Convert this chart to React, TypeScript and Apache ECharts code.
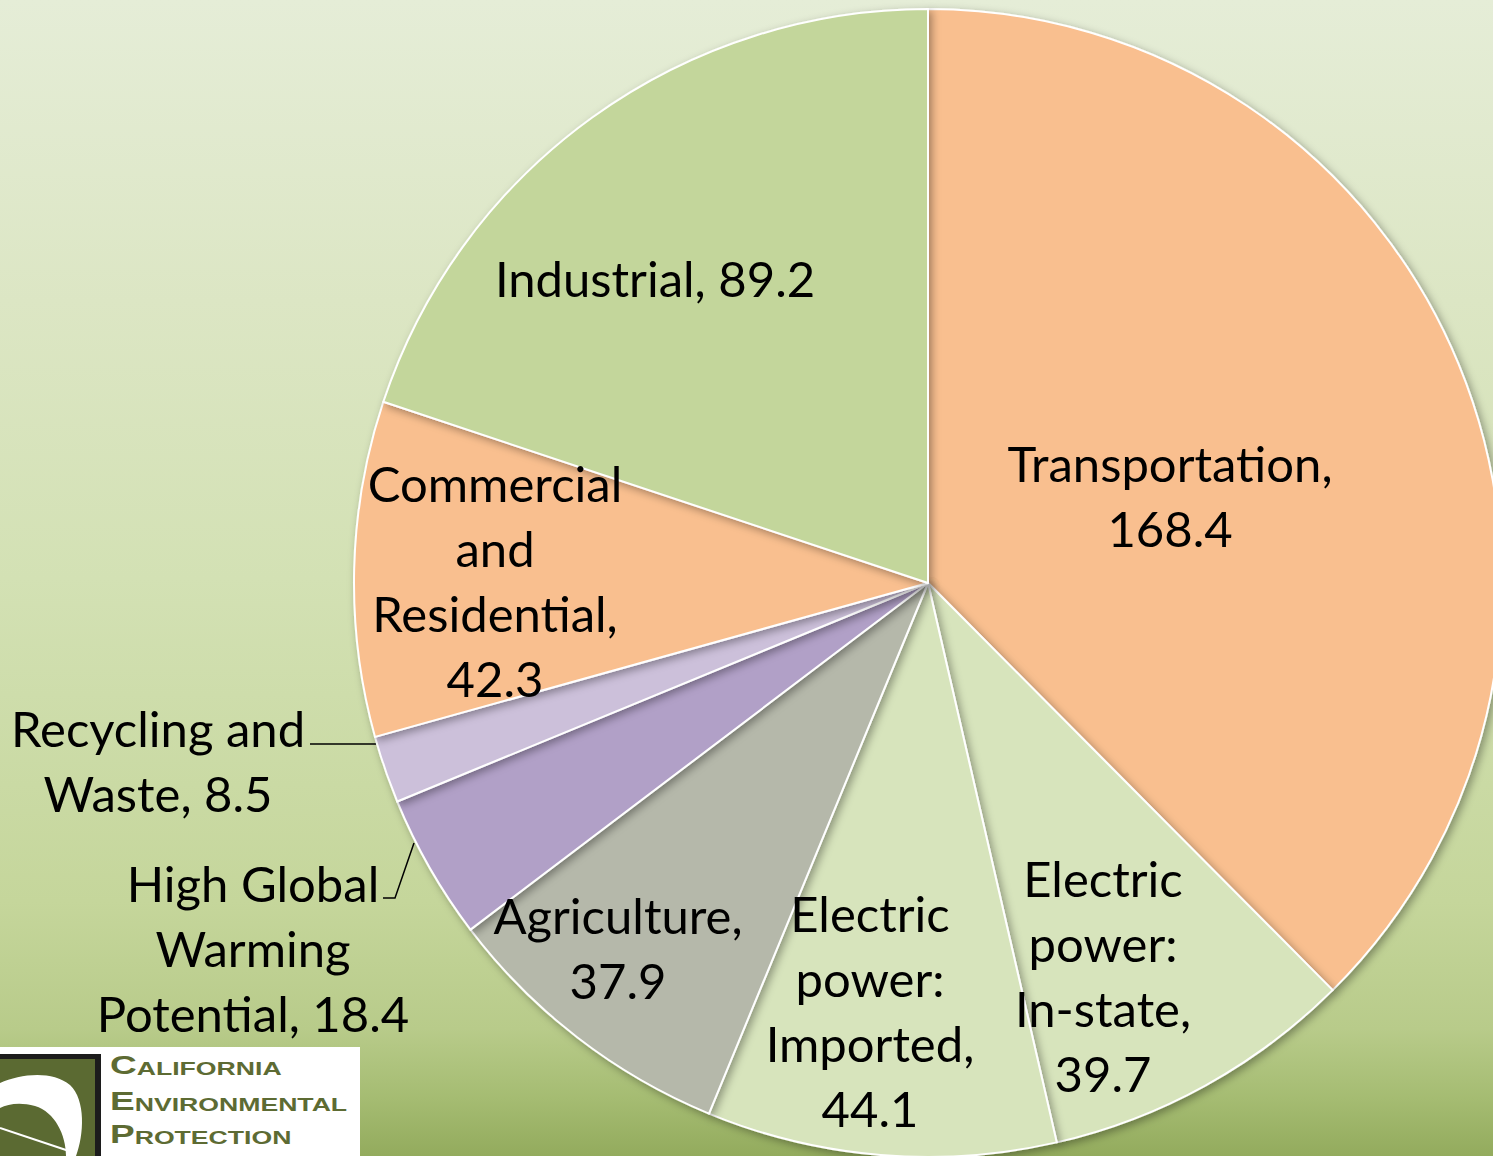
import React, { useEffect, useRef } from "react";
import * as echarts from "echarts";

const categories = [
  "Transportation",
  "Electric power: In-state",
  "Electric power: Imported",
  "Agriculture",
  "High Global Warming Potential",
  "Recycling and Waste",
  "Commercial and Residential",
  "Industrial",
];
const values = [168.4, 39.7, 44.1, 37.9, 18.4, 8.5, 42.3, 89.2];
const labelTexts = [
  "Transportation,\n168.4",
  "Electric\npower:\nIn-state,\n39.7",
  "Electric\npower:\nImported,\n44.1",
  "Agriculture,\n37.9",
  "High Global\nWarming\nPotential, 18.4",
  "Recycling and\nWaste, 8.5",
  "Commercial\nand\nResidential,\n42.3",
  "Industrial, 89.2",
];

// styling / layout (not data)
const sliceColors = ["#F9BF8F", "#D7E4BC", "#D7E4BC", "#B5B8AA", "#B1A0C7", "#CCC0DA", "#F9BF8F", "#C3D69B"];
const labelPos: [number, number][] = [
  [1170, 495],
  [1103, 975],
  [870, 1010],
  [618, 947],
  [253, 948],
  [158, 760],
  [495, 580],
  [655, 278],
];
const labelLinePts: Record<number, [number, number][]> = {
  4: [[414, 843], [395, 898], [383, 898]],
  5: [[376, 744], [343, 744], [310, 744]],
};

const LEAF =
  "M0,27 C20,18 52,14 70,29 C86,44 84,79 76,100 L66,100 C66,79 55,56 35,50 C20,46 8,48 0,52 Z";

export default function App() {
  const ref = useRef<HTMLDivElement>(null);
  useEffect(() => {
    if (!ref.current) return;
    try {
      echarts.graphic.registerShape("leaf", echarts.graphic.extendPath(LEAF, {}) as any);
    } catch (e) {}
    const chart = echarts.init(ref.current, null, { renderer: "svg" });
    const logoFont = "Liberation Sans";
    const mkLogoLine = (big: string, small: string, y: number) => ({
      type: "text",
      x: 110,
      y,
      scaleX: 1.48,
      style: {
        text: `{b|${big}}{s|${small}}`,
        fill: "#5D6B33",
        verticalAlign: "bottom",
        rich: {
          b: { fontSize: 25, fontWeight: "bold", fontFamily: logoFont, fill: "#5D6B33", verticalAlign: "bottom", lineHeight: 25 },
          s: { fontSize: 18, fontWeight: "bold", fontFamily: logoFont, fill: "#5D6B33", verticalAlign: "bottom", lineHeight: 18 },
        },
      },
      z: 100,
    });
    chart.setOption({
      animation: false,
      backgroundColor: {
        type: "linear",
        x: 0,
        y: 0,
        x2: 0,
        y2: 1,
        colorStops: [
          { offset: 0, color: "#E5EDD7" },
          { offset: 0.26, color: "#DCE6C4" },
          { offset: 0.5, color: "#D3E1B4" },
          { offset: 0.78, color: "#C5D69B" },
          { offset: 0.89, color: "#B8CB8A" },
          { offset: 0.95, color: "#A5BC72" },
          { offset: 1, color: "#93AB5D" },
        ],
      },
      series: [
        {
          type: "pie",
          center: [928, 583],
          radius: 574,
          startAngle: 90,
          clockwise: true,
          avoidLabelOverlap: false,
          data: categories.map((name, i) => ({
            name,
            value: values[i],
            itemStyle: { color: sliceColors[i] },
            label: { formatter: labelTexts[i] },
            labelLine: { show: i in labelLinePts },
          })),
          itemStyle: {
            borderColor: "#FFFFFF",
            borderWidth: 2,
            shadowBlur: 8,
            shadowOffsetX: 3,
            shadowOffsetY: 3,
            shadowColor: "rgba(0,0,0,0.35)",
          },
          label: {
            show: true,
            position: "outside",
            color: "#000000",
            fontFamily: "Lato",
            fontSize: 49,
            lineHeight: 65,
            align: "center",
          },
          labelLine: {
            show: true,
            lineStyle: { color: "#000000", width: 1.5 },
          },
          labelLayout: (params: any) => {
            const i = params.dataIndex;
            const res: any = {
              x: labelPos[i][0],
              y: labelPos[i][1],
              align: "center",
              verticalAlign: "middle",
            };
            if (labelLinePts[i]) res.labelLinePoints = labelLinePts[i];
            return res;
          },
          emphasis: { disabled: true },
        },
      ],
      graphic: [
        { type: "rect", shape: { x: 0, y: 1047, width: 360, height: 109 }, style: { fill: "#FFFFFF" }, z: 90 },
        { type: "rect", shape: { x: 0, y: 1054, width: 101, height: 102 }, style: { fill: "#1C1C1C" }, z: 91 },
        { type: "rect", shape: { x: 0, y: 1059, width: 95, height: 97 }, style: { fill: "#5B6A32" }, z: 92 },
        { type: "leaf", x: 0, y: 1056, scaleX: 1, scaleY: 1, style: { fill: "#FFFFFF" }, z: 93 },
        { type: "line", shape: { x1: 0, y1: 1128, x2: 72, y2: 1152 }, style: { stroke: "#FFFFFF", lineWidth: 2 }, z: 93 },
        mkLogoLine("C", "ALIFORNIA", 1078),
        mkLogoLine("E", "NVIRONMENTAL", 1114),
        mkLogoLine("P", "ROTECTION", 1147),
      ],
    });
    return () => chart.dispose();
  }, []);
  return (
    <div
      ref={ref}
      style={{ position: "fixed", left: 0, top: 0, width: 1493, height: 1156 }}
    />
  );
}
